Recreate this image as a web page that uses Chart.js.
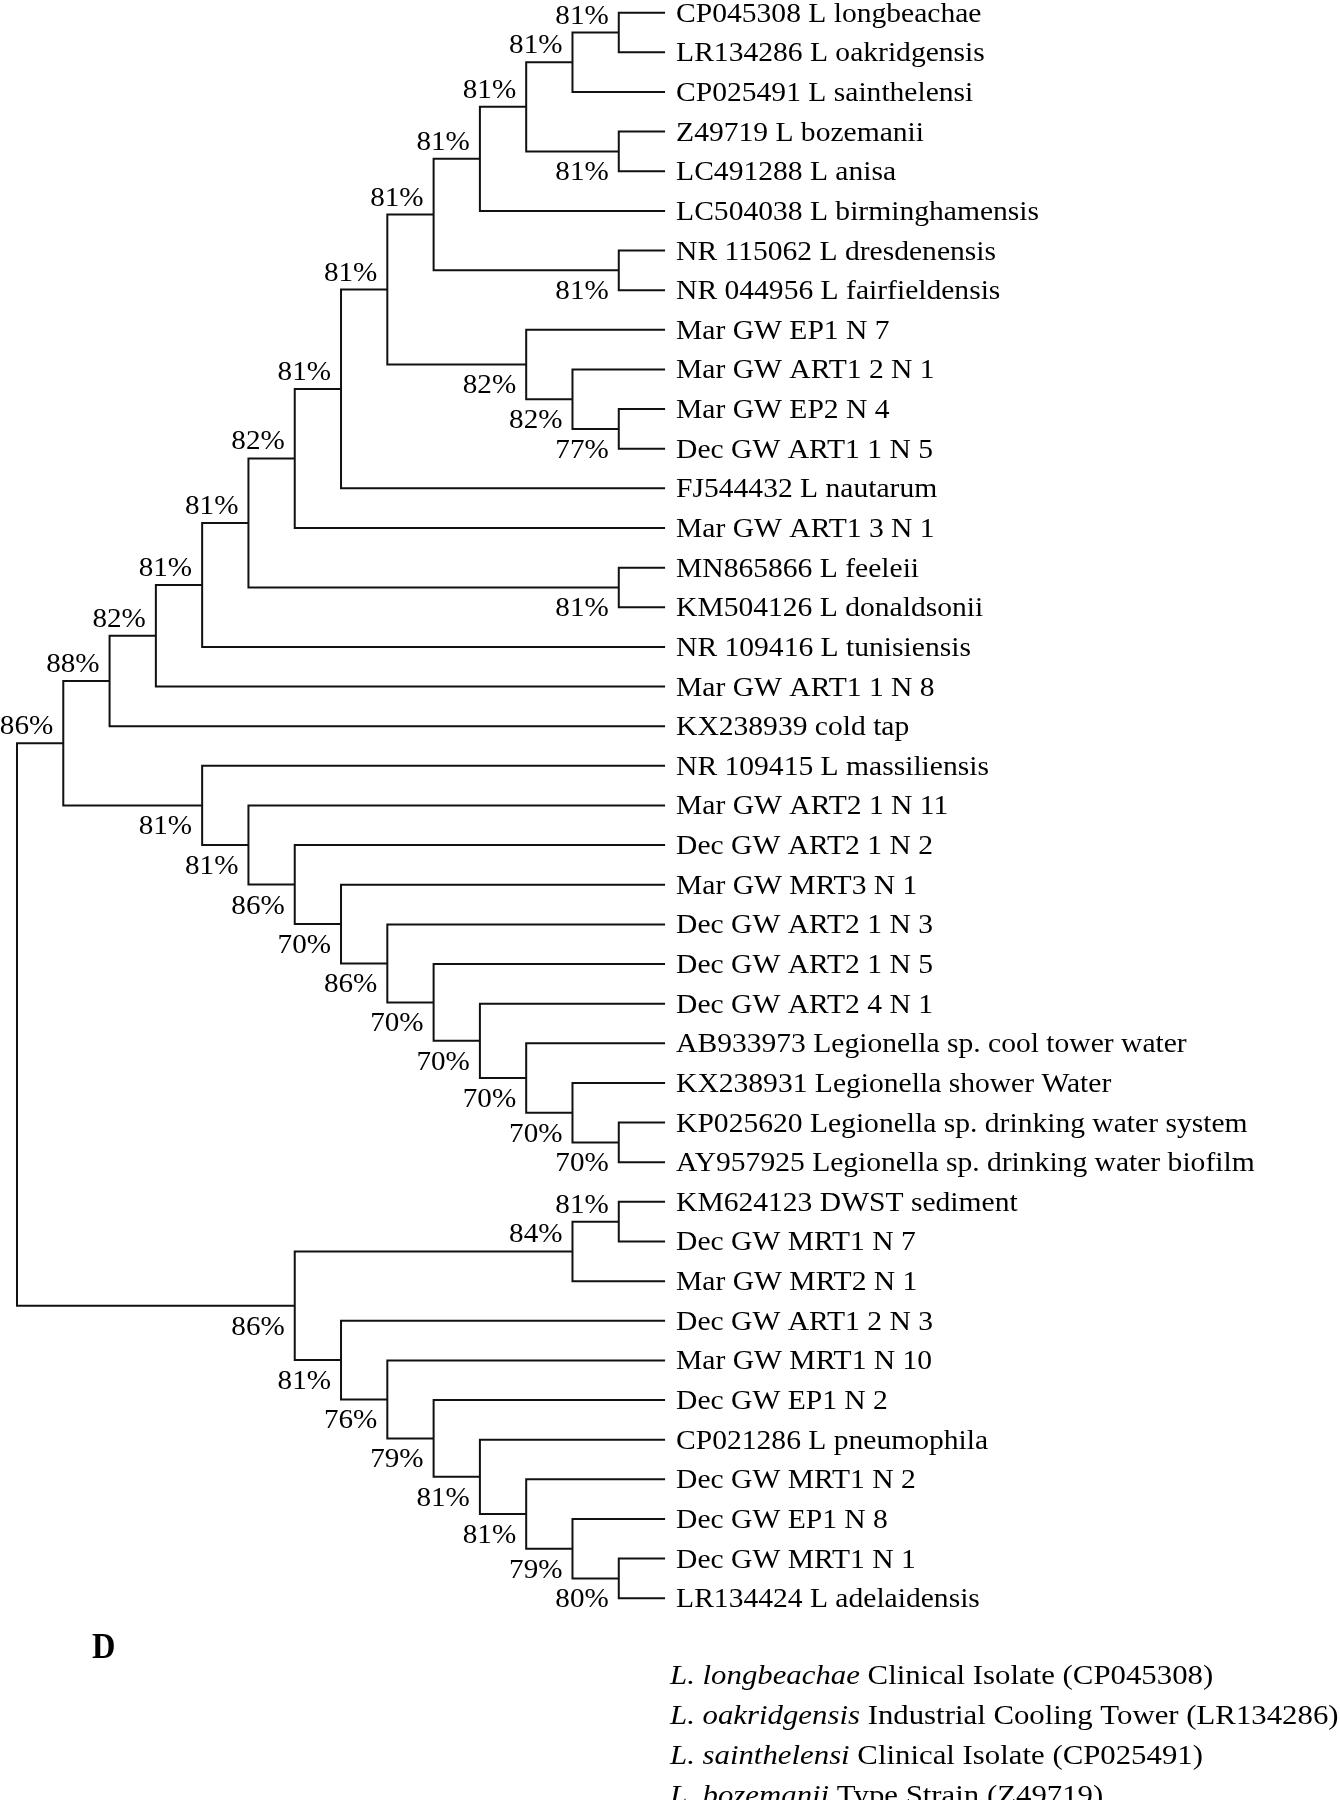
<!DOCTYPE html>
<html>
<head>
<meta charset="utf-8">
<title>Legionella tree D</title>
<script src="https://cdn.jsdelivr.net/npm/chart.js@4.4.0/dist/chart.umd.min.js"></script>
<style>
  html, body { margin: 0; padding: 0; background: #fff; }
  #treeChart { display: block; }
</style>
</head>
<body>
<canvas id="treeChart" width="1340" height="1800"></canvas>
<script>
// leaf labels, top to bottom
const leafNames = [
  'CP045308 L longbeachae', 'LR134286 L oakridgensis', 'CP025491 L sainthelensi',
  'Z49719 L bozemanii', 'LC491288 L anisa', 'LC504038 L birminghamensis',
  'NR 115062 L dresdenensis', 'NR 044956 L fairfieldensis', 'Mar GW EP1 N 7',
  'Mar GW ART1 2 N 1', 'Mar GW EP2 N 4', 'Dec GW ART1 1 N 5', 'FJ544432 L nautarum',
  'Mar GW ART1 3 N 1', 'MN865866 L feeleii', 'KM504126 L donaldsonii',
  'NR 109416 L tunisiensis', 'Mar GW ART1 1 N 8', 'KX238939 cold tap',
  'NR 109415 L massiliensis', 'Mar GW ART2 1 N 11', 'Dec GW ART2 1 N 2',
  'Mar GW MRT3 N 1', 'Dec GW ART2 1 N 3', 'Dec GW ART2 1 N 5', 'Dec GW ART2 4 N 1',
  'AB933973 Legionella sp. cool tower water', 'KX238931 Legionella shower Water',
  'KP025620 Legionella sp. drinking water system', 'AY957925 Legionella sp. drinking water biofilm',
  'KM624123 DWST sediment', 'Dec GW MRT1 N 7', 'Mar GW MRT2 N 1', 'Dec GW ART1 2 N 3',
  'Mar GW MRT1 N 10', 'Dec GW EP1 N 2', 'CP021286 L pneumophila', 'Dec GW MRT1 N 2',
  'Dec GW EP1 N 8', 'Dec GW MRT1 N 1', 'LR134424 L adelaidensis'
];

// topology: numbers are indexes into leafNames
const tree = [
  [
    [[[[[[[[[[[[0, 1], 2], [3, 4]], 5], [6, 7]], [8, [9, [10, 11]]]], 12], 13], [14, 15]], 16], 17], 18],
    [19, [20, [21, [22, [23, [24, [25, [26, [27, [28, 29]]]]]]]]]]
  ],
  [
    [[30, 31], 32],
    [33, [34, [35, [36, [37, [38, [39, 40]]]]]]]
  ]
];

// bootstrap support (%) for the internal nodes, in pre-order
const support = [
  null, 86, 88, 82, 81, 81, 82, 81, 81, 81, 81, 81, 81, 81, 81, 81, 82, 82, 77, 81,
  81, 81, 86, 70, 86, 70, 70, 70, 70, 70,
  86, 84, 81, 81, 76, 79, 81, 81, 79, 80
];

// caption under the tree
const panelLetter = 'D';
const noteSpecies = ['L. longbeachae', 'L. oakridgensis', 'L. sainthelensi', 'L. bozemanii'];
const noteSource = [
  ' Clinical Isolate (CP045308)', ' Industrial Cooling Tower (LR134286)',
  ' Clinical Isolate (CP025491)', ' Type Strain (Z49719)'
];

// ---- layout of the cladogram (x = level, y = leaf row) ----
let counter = 0;
const internals = [];

function height(node) {
  if (typeof node === 'number') return 0;
  return 1 + Math.max(height(node[0]), height(node[1]));
}
const depth = height(tree);

function place(node, upper) {
  if (typeof node === 'number') {
    return { x: depth, y: node };
  }
  const entry = { support: support[counter++], upper: upper };
  internals.push(entry);
  const a = place(node[0], true);
  const b = place(node[1], false);
  entry.x = depth - height(node);
  entry.y = (a.y + b.y) / 2;
  entry.a = a;
  entry.b = b;
  return entry;
}
place(tree, true);

const lineColor = '#111';
const datasets = internals.map(n => ({
  data: [
    { x: n.a.x, y: n.a.y },
    { x: n.x, y: n.a.y },
    { x: n.x, y: n.b.y },
    { x: n.b.x, y: n.b.y }
  ],
  showLine: true,
  borderColor: lineColor,
  borderWidth: 2,
  pointRadius: 0,
  fill: false,
  tension: 0
}));

function stretchText(ctx, str, x, y, align, sx) {
  ctx.save();
  ctx.translate(x, y);
  ctx.scale(sx, 1);
  ctx.textAlign = align;
  ctx.fillText(str, 0, 0);
  ctx.restore();
}

const textPlugin = {
  id: 'treeText',
  afterDatasetsDraw(chart) {
    const ctx = chart.ctx;
    const xs = chart.scales.x, ys = chart.scales.y;
    ctx.save();
    ctx.fillStyle = '#000';
    ctx.textBaseline = 'alphabetic';
    ctx.font = '27.5px "Liberation Serif", "Times New Roman", serif';

    const tipX = xs.getPixelForValue(depth);
    leafNames.forEach((name, i) => {
      stretchText(ctx, name, tipX + 11, ys.getPixelForValue(i) + 9, 'left', 1.075);
    });

    internals.forEach(n => {
      if (n.support === null) return;
      const px = xs.getPixelForValue(n.x) - 10;
      const py = ys.getPixelForValue(n.y);
      const base = n.upper ? py - 9 : py + 29;
      stretchText(ctx, n.support + '%', Math.max(px, 53), base, 'right', 1.06);
    });

    ctx.font = 'bold 36px "Liberation Serif", "Times New Roman", serif';
    stretchText(ctx, panelLetter, 92, 1658, 'left', 0.9);

    const sx = 1.1;
    noteSpecies.forEach((sp, i) => {
      const y = 1684 + i * 40;
      ctx.font = 'italic 28px "Liberation Serif", "Times New Roman", serif';
      const w = ctx.measureText(sp).width * sx;
      stretchText(ctx, sp, 670, y, 'left', sx);
      ctx.font = '28px "Liberation Serif", "Times New Roman", serif';
      stretchText(ctx, noteSource[i], 670 + w, y, 'left', sx);
    });
    ctx.restore();
  }
};

new Chart(document.getElementById('treeChart'), {
  type: 'scatter',
  data: { datasets: datasets },
  options: {
    responsive: false,
    animation: false,
    events: [],
    layout: { padding: 0 },
    plugins: { legend: { display: false }, tooltip: { enabled: false } },
    scales: {
      x: { type: 'linear', display: false, min: -0.367, max: 28.58 },
      y: { type: 'linear', display: false, reverse: true, min: -0.32, max: 45.09 }
    }
  },
  plugins: [textPlugin]
});
</script>
</body>
</html>
